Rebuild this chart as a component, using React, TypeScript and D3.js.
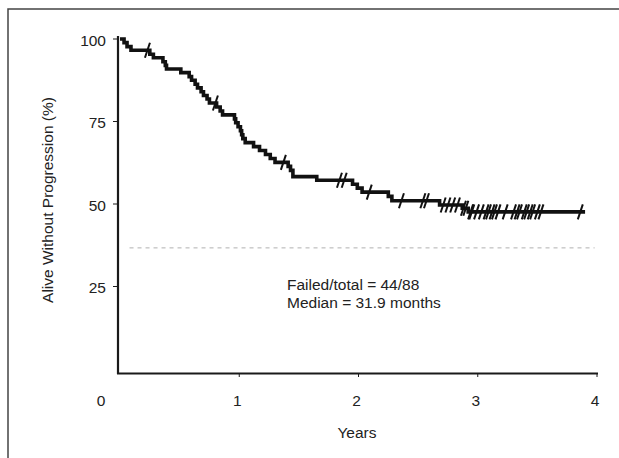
import React from "react";
import * as d3 from "d3";

// Kaplan-Meier step data (years, % alive without progression after the event)
const eventTimes = [0.034, 0.059, 0.092, 0.25, 0.28, 0.36, 0.38, 0.39, 0.51, 0.58, 0.6, 0.63, 0.65, 0.68, 0.7, 0.73, 0.75, 0.81, 0.84, 0.86, 0.96, 0.97, 0.99, 1.01, 1.02, 1.03, 1.05, 1.12, 1.17, 1.22, 1.26, 1.3, 1.41, 1.43, 1.45, 1.65, 1.95, 1.99, 2.03, 2.25, 2.28, 2.68, 2.87, 2.92];
const eventSurvival = [98.9, 97.7, 96.6, 95.4, 94.3, 93.1, 92.0, 90.9, 89.8, 88.6, 87.5, 86.3, 85.2, 84.0, 82.9, 81.8, 80.6, 79.4, 78.2, 77.0, 75.8, 74.6, 73.4, 72.2, 71.0, 69.8, 68.6, 67.4, 66.2, 65.0, 63.8, 62.6, 61.4, 60.2, 58.3, 57.2, 56.0, 54.8, 53.6, 52.3, 51.0, 49.7, 48.7, 47.6];
const censorTimes = [0.23, 0.8, 1.37, 1.84, 1.88, 2.09, 2.36, 2.54, 2.57, 2.71, 2.75, 2.79, 2.83, 2.88, 2.9, 2.94, 2.95, 2.99, 3.03, 3.07, 3.09, 3.12, 3.14, 3.17, 3.23, 3.3, 3.33, 3.35, 3.39, 3.41, 3.44, 3.46, 3.5, 3.53, 3.86];
const lastFollowUp = 3.9;
const referenceLevel = 36.7;
const referenceSpan = [0.08, 3.98];
const xTicks = [0, 1, 2, 3, 4];
const yTicks = [25, 50, 75, 100];
const annotation = ["Failed/total = 44/88", "Median = 31.9 months"];

const FONT = "'Liberation Sans', Arial, Helvetica, sans-serif";

export default function App() {
  const x = d3.scaleLinear().domain([0, 4]).range([120, 597]);
  const y = d3.scaleLinear().domain([0, 100]).range([369, 39]);

  const pts: [number, number][] = [[0, 100]];
  eventTimes.forEach((t, i) => pts.push([t, eventSurvival[i]]));
  pts.push([lastFollowUp, eventSurvival[eventSurvival.length - 1]]);

  const line = d3
    .line<[number, number]>()
    .x((d) => x(d[0]))
    .y((d) => y(d[1]))
    .curve(d3.curveStepAfter);

  const survAt = (t: number) => {
    let s = 100;
    for (let i = 0; i < eventTimes.length; i++) {
      if (eventTimes[i] <= t) s = eventSurvival[i];
    }
    return s;
  };

  const axisColor = "#1a1a1a";
  const textColor = "#222";

  return (
    <svg
      width={619}
      height={458}
      style={{ position: "absolute", left: 0, top: 0, background: "#fff" }}
    >
      <rect x={8} y={9} width={640} height={480} fill="none" stroke="#444" strokeWidth={1.5} />

      {/* reference dashed line */}
      <line
        x1={x(referenceSpan[0])}
        x2={x(referenceSpan[1])}
        y1={y(referenceLevel)}
        y2={y(referenceLevel)}
        stroke="#b0b0b0"
        strokeWidth={1}
        strokeDasharray="4,4"
      />

      {/* axes */}
      <line x1={118} x2={118} y1={36} y2={374} stroke={axisColor} strokeWidth={2.2} />
      <line x1={117} x2={598} y1={373.5} y2={373.5} stroke={axisColor} strokeWidth={2.2} />

      {yTicks.map((v) => (
        <g key={"y" + v}>
          <line x1={113} x2={118} y1={y(v)} y2={y(v)} stroke={axisColor} strokeWidth={1} />
          <text
            x={106}
            y={y(v) + 1}
            textAnchor="end"
            dominantBaseline="central"
            fontFamily={FONT}
            fontSize={15.5}
            fill={textColor}
          >
            {v}
          </text>
        </g>
      ))}

      {xTicks.map((v) => (
        <g key={"x" + v}>
          {v > 0 && (
            <line x1={x(v)} x2={x(v)} y1={373.5} y2={377} stroke={axisColor} strokeWidth={1} />
          )}
          <text
            x={v === 0 ? 101 : x(v) - 2}
            y={400}
            textAnchor="middle"
            dominantBaseline="central"
            fontFamily={FONT}
            fontSize={15.5}
            fill={textColor}
          >
            {v}
          </text>
        </g>
      ))}

      <text
        x={357}
        y={432}
        textAnchor="middle"
        dominantBaseline="central"
        fontFamily={FONT}
        fontSize={15.5}
        fill={textColor}
      >
        Years
      </text>
      <text
        transform={`translate(47,200) rotate(-90)`}
        textAnchor="middle"
        dominantBaseline="central"
        fontFamily={FONT}
        fontSize={15.5}
        fill={textColor}
      >
        Alive Without Progression (%)
      </text>

      {/* KM curve */}
      <path d={line(pts) || ""} fill="none" stroke="#111" strokeWidth={3.6} strokeLinejoin="miter" />

      {censorTimes.map((t, i) => {
        const cx = x(t);
        const cy = y(survAt(t));
        return (
          <line
            key={"c" + i}
            x1={cx - 2.5}
            y1={cy + 7.5}
            x2={cx + 2.5}
            y2={cy - 7.5}
            stroke="#111"
            strokeWidth={2}
          />
        );
      })}

      {annotation.map((s, i) => (
        <text
          key={"a" + i}
          x={287}
          y={284 + i * 18.5}
          dominantBaseline="central"
          fontFamily={FONT}
          fontSize={15.5}
          fill={textColor}
        >
          {s}
        </text>
      ))}
    </svg>
  );
}
